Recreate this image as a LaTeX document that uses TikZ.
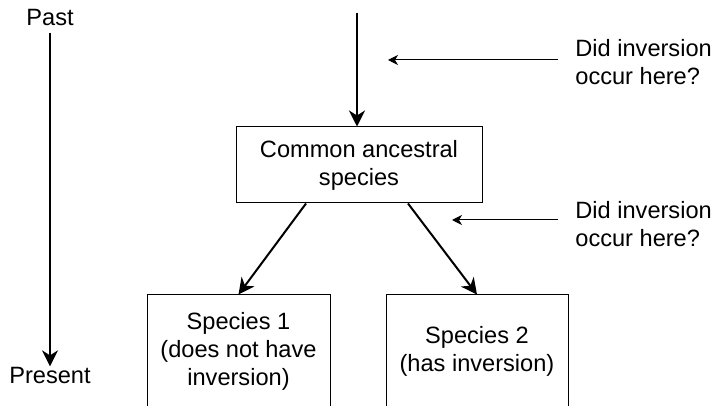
\documentclass[tikz,border=0pt]{standalone}
\usepackage{fontspec}
\setmainfont{Liberation Sans}
\usetikzlibrary{arrows.meta}
\tikzset{
    label text/.style={font=\fontsize{11.8}{14}\selectfont, inner sep=0pt},
    species box/.style={draw, line width=0.5pt, align=center, font=\fontsize{11.8}{14}\selectfont},
    big arrow/.style={line width=1pt, -{Stealth[length=8pt,width=8pt,inset=2.5pt]}},
    small arrow/.style={line width=0.5pt, -{Stealth[length=5pt,width=5pt,inset=1.5pt]}}
}
\begin{document}
\begin{tikzpicture}[x=0.5pt,y=-0.5pt]
                %\draw[help lines] (0,0) grid (713,406);
                \useasboundingbox (0,0) rectangle (713,406);
                \clip (0,0) rectangle (713,406);
                \node[label text] (past) at (50,18) {Past};
                \node[label text] (present) at (50,375) {Present};
                \node[species box, minimum width=123pt, minimum height=38pt] (common) at (359,165) {Common ancestral\\species};
                \node[species box, minimum width=91.5pt, minimum height=56pt] (sp1) at (238.5,351) {Species 1\\(does not have\\inversion)};
                \node[species box, minimum width=91pt, minimum height=56pt] (sp2) at (477,351) {Species 2\\(has inversion)};
                \node[label text, align=left, anchor=west] (q1) at (575,62) {Did inversion\\occur here?};
                \node[label text, align=left, anchor=west] (q2) at (575,224) {Did inversion\\occur here?};
                \coordinate (top) at (357,13);
                \coordinate (q1tip) at (388,60);
                \coordinate (q2tip) at (452,220);
                \draw[big arrow] (past.south) ++(0,6) -- (present.north);
                \draw[big arrow] (top) -- (top |- common.north);
                \draw[big arrow] ([xshift=-26.5pt]common.south) -- (sp1.north);
                \draw[big arrow] ([xshift=24.5pt]common.south) -- (sp2.north);
                \draw[small arrow] (558,60) -- (q1tip);
                \draw[small arrow] (558,220) -- (q2tip);
            \end{tikzpicture}
\end{document}
